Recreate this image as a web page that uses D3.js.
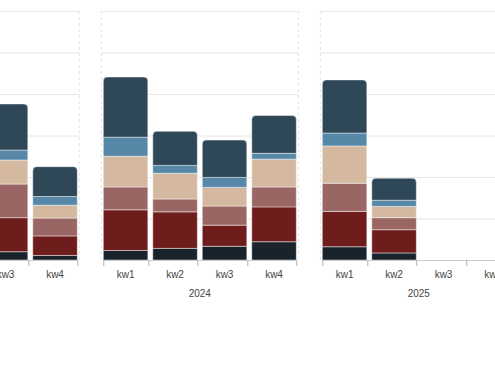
<!DOCTYPE html>
<html>
<head>
<meta charset="utf-8">
<script src="https://cdn.jsdelivr.net/npm/d3@7"></script>
<style>
  html, body { margin: 0; padding: 0; background: #fff; }
  svg { display: block; }
  text { font-family: "Liberation Sans", Arial, sans-serif; }
</style>
</head>
<body>
<svg id="chart" width="495" height="367"></svg>
<script>
// ---- data ----
const years = ["2023", "2024", "2025"];
const quarters = ["kw1", "kw2", "kw3", "kw4"];
const seriesNames = ["s1", "s2", "s3", "s4", "s5", "s6"];
const seriesColors = ["#18232b", "#6e1c1c", "#9a6664", "#d4b9a0", "#5888a8", "#2f4858"];
const yTicks = [0, 10, 20, 30, 40, 50, 60];
// values per year x quarter (2023 kw1..kw4, 2024 kw1..kw4, 2025 kw1..kw4); null = not shown / no data
const s1 = [null, null, 2.0, 1.1,  2.3, 2.8, 3.3, 4.4,  3.2, 1.7, null, null];
const s2 = [null, null, 8.2, 4.7,  9.8, 8.8, 5.1, 8.4,  8.5, 5.6, null, null];
const s3 = [null, null, 8.1, 4.3,  5.5, 3.1, 4.6, 4.8,  6.8, 2.9, null, null];
const s4 = [null, null, 5.8, 3.1,  7.4, 6.2, 4.5, 6.7,  9.0, 2.7, null, null];
const s5 = [null, null, 2.4, 2.1,  4.6, 1.9, 2.4, 1.4,  3.1, 1.5, null, null];
const s6 = [null, null, 11.1, 7.2, 14.5, 8.2, 9.0, 9.1, 12.8, 5.3, null, null];
const seriesValues = [s1, s2, s3, s4, s5, s6];

// ---- layout ----
const svg = d3.select("#chart");
const panelW = 197, panelStep = 219, panel1Left = 101.3;
const plotTop = 11, plotBottom = 260;

const y = d3.scaleLinear().domain([0, 60]).range([plotBottom, plotTop]);
const xPanel = i => panel1Left + (i - 1) * panelStep;
const xBand = d3.scaleBand().domain(quarters).range([2, panelW - 2]).paddingInner(0.1).paddingOuter(0);

function topRoundedRect(x, y0, w, h, r) {
  r = Math.min(r, h, w / 2);
  return `M${x},${y0 + h}V${y0 + r}Q${x},${y0} ${x + r},${y0}H${x + w - r}Q${x + w},${y0} ${x + w},${y0 + r}V${y0 + h}Z`;
}

years.forEach((yr, pi) => {
  const g = svg.append("g").attr("transform", `translate(${xPanel(pi)},0)`);

  // gridlines
  g.selectAll("line.grid").data(yTicks.filter(t => t > 0)).join("line")
    .attr("class", "grid")
    .attr("x1", 0).attr("x2", panelW)
    .attr("y1", d => y(d) + 0.5).attr("y2", d => y(d) + 0.5)
    .attr("stroke", "#e6e6e6").attr("stroke-width", 1);

  // panel side borders (dashed)
  [0, panelW].forEach(xx => {
    g.append("line").attr("x1", xx).attr("x2", xx).attr("y1", plotTop).attr("y2", plotBottom)
      .attr("stroke", "#e3e3e3").attr("stroke-dasharray", "3,3");
  });

  // stacked bars
  quarters.forEach((q, qi) => {
    const idx = pi * 4 + qi;
    if (seriesValues[0][idx] == null) return;
    let cum = 0;
    const segs = seriesValues.map((arr, si) => {
      const v = arr[idx];
      const s = { si, y0: cum, y1: cum + v };
      cum += v;
      return s;
    });
    const bx = xBand(q), bw = xBand.bandwidth();
    segs.forEach((s, k) => {
      const yTop = y(s.y1), h = y(s.y0) - y(s.y1);
      const isTop = k === segs.length - 1;
      g.append("path")
        .attr("d", topRoundedRect(bx, yTop, bw, h, isTop ? 4 : 0))
        .attr("fill", seriesColors[s.si])
        .attr("stroke", "rgba(255,255,255,0.45)")
        .attr("stroke-width", 1);
    });
  });

  // axis
  const firstX = xBand(quarters[0]);
  const tickXs = [firstX].concat(quarters.map(q => xBand(q) + xBand.bandwidth()));
  g.append("line").attr("x1", firstX).attr("x2", tickXs[tickXs.length - 1])
    .attr("y1", plotBottom + 0.5).attr("y2", plotBottom + 0.5).attr("stroke", "#cccccc");
  g.selectAll("line.tick").data(tickXs).join("line")
    .attr("class", "tick")
    .attr("x1", d => Math.round(d) + 0.5).attr("x2", d => Math.round(d) + 0.5)
    .attr("y1", plotBottom).attr("y2", plotBottom + 6)
    .attr("stroke", "#b0b0b0");

  g.selectAll("text.q").data(quarters).join("text")
    .attr("class", "q")
    .attr("x", d => xBand(d) + xBand.bandwidth() / 2)
    .attr("y", 277.5)
    .attr("text-anchor", "middle")
    .attr("font-size", 10)
    .attr("fill", "#444")
    .text(d => d);

  g.append("text")
    .attr("x", panelW / 2).attr("y", 296.5)
    .attr("text-anchor", "middle")
    .attr("font-size", 10)
    .attr("fill", "#444")
    .text(yr);
});
</script>
</body>
</html>
